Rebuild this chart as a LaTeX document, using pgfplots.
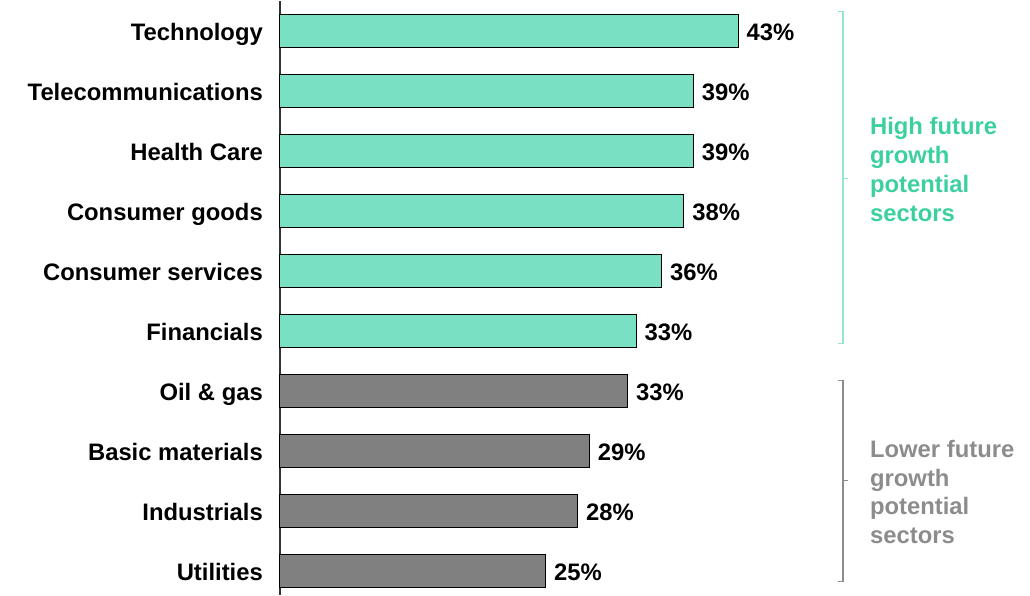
\documentclass[border=0pt]{standalone}
\usepackage{fontspec}
\setmainfont{Liberation Sans}
\usepackage{pgfplots}
\pgfplotsset{compat=1.18}
\usepackage{pgfplotstable}

\definecolor{hibar}{RGB}{121,224,195}
\definecolor{lobar}{RGB}{128,128,128}
\definecolor{hitext}{RGB}{60,208,160}
\definecolor{hibrace}{RGB}{150,230,205}
\definecolor{lotext}{RGB}{140,140,140}
\definecolor{lobrace}{RGB}{140,140,140}

\newcommand{\bigfont}{\fontsize{23.9}{28.8}\selectfont\bfseries}

% y = row from the top, val = bar length, lab = printed label
\pgfplotstableread{
y val lab
0 43.1 43\%
1 38.9 39\%
2 38.9 39\%
3 38.0 38\%
4 35.9 36\%
5 33.5 33\%
}\hightab

\pgfplotstableread{
y val lab
6 32.7 33\%
7 29.1 29\%
8 28.0 28\%
9 25.0 25\%
}\lowtab

\begin{document}
\begin{tikzpicture}
\begin{axis}[
    width=750bp, height=594bp, scale only axis,
    xbar, bar width=0.55, bar shift=0pt,
    xmin=0, xmax=70.56,
    ymin=-0.508, ymax=9.392, y dir=reverse,
    axis x line=none,
    axis y line*=left,
    axis line style={draw=black!80, line width=2bp},
    ytick={0,...,9},
    yticklabels={Technology,Telecommunications,Health Care,Consumer goods,Consumer services,Financials,Oil \& gas,Basic materials,Industrials,Utilities},
    major tick length=0pt,
    yticklabel style={font=\bigfont, inner sep=0pt, anchor=base east, xshift=-17bp, yshift=-8.6bp},
    nodes near coords,
    point meta=explicit symbolic,
    nodes near coords style={font=\bigfont, anchor=base west, inner sep=0pt, xshift=8bp, yshift=-8.6bp},
    clip=false,
]
\addplot[fill=hibar, draw=black, line width=1bp] table[x=val, y=y, meta=lab] {\hightab};
\addplot[fill=lobar, draw=black, line width=1bp] table[x=val, y=y, meta=lab] {\lowtab};

% brackets for the two groups
\draw[hibrace, line width=1.3bp] (axis cs:52.5,-0.333) -- (axis cs:52.96,-0.333) -- (axis cs:52.96,5.2) -- (axis cs:52.5,5.2);
\draw[hibrace, line width=1.3bp] (axis cs:52.96,2.45) -- (axis cs:53.43,2.45);
\draw[lobrace, line width=1.3bp] (axis cs:52.5,5.817) -- (axis cs:52.96,5.817) -- (axis cs:52.96,9.167) -- (axis cs:52.5,9.167);
\draw[lobrace, line width=1.3bp] (axis cs:52.96,7.483) -- (axis cs:53.43,7.483);

\node[anchor=west, align=left, inner sep=0pt, text=hitext, font=\bigfont] at (axis cs:55.5,2.3) {High future\\growth\\potential\\sectors};
\node[anchor=west, align=left, inner sep=0pt, text=lotext, font=\bigfont] at (axis cs:55.5,7.675) {Lower future\\growth\\potential\\sectors};
\end{axis}
\path (current axis.south west) ++(-280bp,0) rectangle ++(1030bp,594bp);
\end{tikzpicture}
\end{document}
